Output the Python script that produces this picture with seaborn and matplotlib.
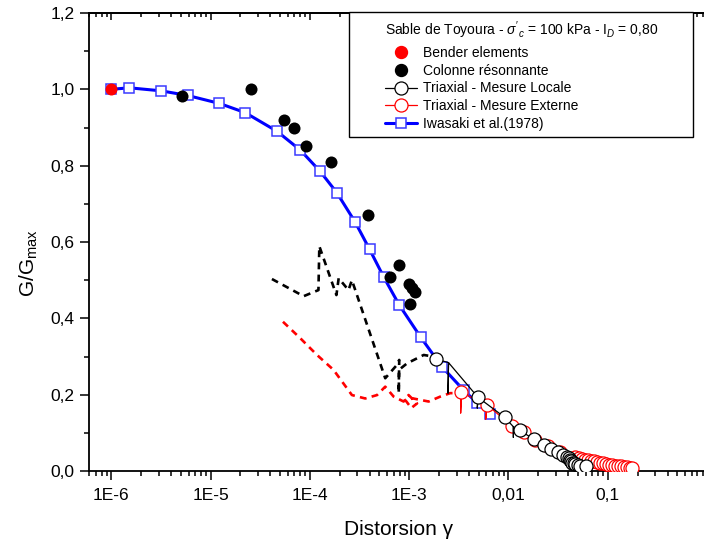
import numpy as np
import matplotlib
matplotlib.use("Agg")
import matplotlib.pyplot as plt
import seaborn as sns
from matplotlib.lines import Line2D
from matplotlib.patches import Rectangle
from matplotlib.ticker import FixedLocator, LogLocator, NullFormatter, MultipleLocator

# ---------------- data ----------------
bender_x = [1.0e-6]
bender_y = [1.0]

colonne_x = [5.15e-6, 2.57e-5, 5.43e-5, 6.92e-5, 9.14e-5, 1.64e-4, 3.81e-4,
             6.46e-4, 7.94e-4, 9.86e-4, 1.07e-3, 1.15e-3, 1.03e-3]
colonne_y = [0.982, 1.001, 0.920, 0.900, 0.851, 0.810, 0.670,
             0.509, 0.539, 0.490, 0.479, 0.468, 0.438]

iwasaki_x = [1.0e-6, 1.52e-6, 3.19e-6, 5.86e-6, 1.23e-5, 2.23e-5, 4.67e-5, 8.0e-5,
             1.27e-4, 1.87e-4, 2.86e-4, 3.99e-4, 5.52e-4, 7.94e-4, 1.31e-3,
             2.14e-3, 3.53e-3, 4.85e-3, 6.56e-3]
iwasaki_y = [1.0, 1.004, 0.996, 0.984, 0.963, 0.939, 0.890, 0.841,
             0.785, 0.729, 0.652, 0.581, 0.509, 0.435, 0.350,
             0.273, 0.212, 0.178, 0.149]

# small-strain local measurement (dashed black)
loc_dash_x = [4.15e-5, 8.65e-5, 1.22e-4, 1.245e-4, 1.85e-4, 1.95e-4, 2.45e-4, 2.65e-4,
              5.74e-4, 7.53e-4, 7.94e-4, 7.85e-4, 7.9e-4, 9.51e-4, 1.40e-3, 1.74e-3, 1.87e-3]
loc_dash_y = [0.503, 0.458, 0.474, 0.589, 0.461, 0.505, 0.474, 0.500,
              0.243, 0.278, 0.291, 0.204, 0.265, 0.282, 0.304, 0.300, 0.293]

# small-strain external measurement (dashed red)
ext_dash_x = [5.36e-5, 8.0e-5, 1.18e-4, 1.73e-4, 2.65e-4, 3.61e-4, 4.75e-4, 5.74e-4,
              6.97e-4, 8.79e-4, 9.86e-4, 1.20e-3, 1.05e-3, 9.14e-4, 1.10e-3, 1.57e-3,
              2.06e-3, 2.59e-3, 3.27e-3]
ext_dash_y = [0.391, 0.348, 0.304, 0.265, 0.199, 0.190, 0.199, 0.221,
              0.195, 0.182, 0.199, 0.177, 0.165, 0.186, 0.190, 0.182,
              0.195, 0.204, 0.204]

# Triaxial - Mesure Locale
loc_x = [1.87e-3, 2.49e-3, 2.46e-3, 2.49e-3, 4.93e-3, 4.85e-3, 4.93e-3, 9.12e-3,
         1.12e-2, 1.12e-2, 1.12e-2, 1.30e-2, 1.79e-2, 2.26e-2, 2.70e-2, 3.13e-2,
         3.54e-2, 3.91e-2, 4.05e-2, 4.19e-2, 4.30e-2, 4.38e-2, 4.55e-2, 4.71e-2,
         5.0e-2, 5.28e-2, 6.07e-2]
loc_y = [0.293, 0.284, 0.204, 0.284, 0.193, 0.165, 0.193, 0.141,
         0.116, 0.088, 0.116, 0.107, 0.083, 0.068, 0.057, 0.050,
         0.043, 0.037, 0.033, 0.029, 0.025, 0.022, 0.020, 0.018,
         0.016, 0.014, 0.013]
loc_marked = [0, 4, 7, 11, 12, 13, 14, 15, 16, 17, 18, 19, 20, 21, 22, 23, 24, 25, 26]

# Triaxial - Mesure Externe
ext_x = [3.35e-3, 3.30e-3, 3.35e-3, 6.07e-3, 5.9e-3, 6.07e-3, 1.09e-2, 1.42e-2,
         1.86e-2, 2.52e-2, 3.33e-2, 4.71e-2, 0.051, 0.055, 0.059, 0.063, 0.068,
         0.073, 0.078, 0.084, 0.090, 0.096, 0.103, 0.110, 0.118, 0.126, 0.135,
         0.145, 0.155, 0.166, 0.177]
ext_y = [0.206, 0.152, 0.206, 0.173, 0.136, 0.173, 0.118, 0.101,
         0.081, 0.065, 0.050, 0.037, 0.034, 0.032, 0.030, 0.028, 0.026,
         0.025, 0.023, 0.021, 0.020, 0.018, 0.017, 0.016, 0.014, 0.013, 0.012,
         0.011, 0.010, 0.009, 0.007]
ext_marked = [0, 3] + list(range(6, 31))

x_tick_values = [1e-6, 1e-5, 1e-4, 1e-3, 1e-2, 1e-1]
x_tick_labels = ["1E-6", "1E-5", "1E-4", "1E-3", "0,01", "0,1"]
y_tick_values = [0.0, 0.2, 0.4, 0.6, 0.8, 1.0, 1.2]
y_tick_labels = ["0,0", "0,2", "0,4", "0,6", "0,8", "1,0", "1,2"]

legend_title = "Sable de Toyoura - $\\sigma'_c$ = 100 kPa - I$_D$ = 0,80"
legend_labels = ["Bender elements", "Colonne résonnante", "Triaxial - Mesure Locale",
                 "Triaxial - Mesure Externe", "Iwasaki et al.(1978)"]

# ---------------- style ----------------
sns.set_style("ticks", rc={"axes.edgecolor": "black", "xtick.color": "black",
                           "ytick.color": "black", "text.color": "black",
                           "axes.labelcolor": "black"})
plt.rcParams['font.family'] = ['Liberation Sans', 'DejaVu Sans']
plt.rcParams['mathtext.fontset'] = 'custom'
plt.rcParams['mathtext.rm'] = 'Liberation Sans'
plt.rcParams['mathtext.it'] = 'Liberation Sans:italic'
plt.rcParams['mathtext.bf'] = 'Liberation Sans:bold'

W, H = 704, 545
fig = plt.figure(figsize=(W / 100, H / 100), dpi=100)
L, B, T = 88.5, 471, 13
ax = fig.add_axes([L / W, (H - B) / H, 618.6 / W, (B - T) / H])
ax.set_xscale('log')
ax.set_xlim(5.9e-7, 1.0)
ax.set_ylim(0, 1.2)

blue = '#0000ff'
sq_edge = '#3a3aff'

# dashed small-strain curves
sns.lineplot(x=ext_dash_x, y=ext_dash_y, sort=False, estimator=None, ax=ax,
             color='red', linewidth=1.9, linestyle=(0, (2.6, 2.0)), legend=False, zorder=2)
sns.lineplot(x=loc_dash_x, y=loc_dash_y, sort=False, estimator=None, ax=ax,
             color='black', linewidth=1.9, linestyle=(0, (2.6, 2.0)), legend=False, zorder=2)

# Iwasaki
sns.lineplot(x=iwasaki_x, y=iwasaki_y, sort=False, estimator=None, ax=ax,
             color=blue, linewidth=2.2, marker='s', markersize=7.2,
             markerfacecolor='white', markeredgecolor=sq_edge, markeredgewidth=1.1,
             legend=False, zorder=4)

# Colonne resonnante
sns.scatterplot(x=colonne_x, y=colonne_y, ax=ax, color='black', s=75,
                linewidth=0, legend=False, zorder=5)

# Triaxial externe
sns.lineplot(x=ext_x, y=ext_y, sort=False, estimator=None, ax=ax,
             color='red', linewidth=0.9, marker='o', markersize=9.4,
             markerfacecolor='white', markeredgecolor='red', markeredgewidth=0.9,
             markevery=ext_marked, legend=False, zorder=6)

# Triaxial locale
sns.lineplot(x=loc_x, y=loc_y, sort=False, estimator=None, ax=ax,
             color='black', linewidth=0.9, marker='o', markersize=9.4,
             markerfacecolor='white', markeredgecolor='black', markeredgewidth=0.9,
             markevery=loc_marked, legend=False, zorder=7)

# Bender
sns.scatterplot(x=bender_x, y=bender_y, ax=ax, color='red', s=75,
                linewidth=0, legend=False, zorder=8)

# ---------------- axes ----------------
for s in ax.spines.values():
    s.set_linewidth(1.3)
    s.set_color('black')

ax.xaxis.set_major_locator(FixedLocator(x_tick_values))
ax.set_xticklabels(x_tick_labels)
ax.xaxis.set_minor_locator(LogLocator(base=10, subs=np.arange(2, 10) * 1.0, numticks=60))
ax.xaxis.set_minor_formatter(NullFormatter())
ax.set_yticks(y_tick_values)
ax.set_yticklabels(y_tick_labels)
ax.yaxis.set_minor_locator(MultipleLocator(0.1))

ax.tick_params(which='major', direction='out', length=6.5, width=1.1, labelsize=12.5)
ax.tick_params(axis='x', which='major', pad=5.8)
ax.tick_params(axis='y', which='major', pad=3.5)
ax.tick_params(which='minor', direction='out', length=3.5, width=1.1)
ax.tick_params(top=False, right=False, which='both')

sec = ax.secondary_xaxis('top')
sec.xaxis.set_major_locator(FixedLocator(x_tick_values))
sec.xaxis.set_minor_locator(LogLocator(base=10, subs=np.arange(2, 10) * 1.0, numticks=60))
sec.xaxis.set_minor_formatter(NullFormatter())
sec.tick_params(which='major', direction='in', length=5, width=1.1, labeltop=False)
sec.tick_params(which='minor', direction='in', length=3, width=1.1)
sec.spines['top'].set_linewidth(1.3)

ax.set_xlabel("Distorsion γ", fontsize=15)
ax.xaxis.set_label_coords(0.502, -0.106)
ax.set_ylabel("G/G$_{\\mathrm{max}}$", fontsize=15)
ax.yaxis.set_label_coords(-0.078, 0.454)

# ---------------- legend ----------------
handles = [
    Line2D([], [], linestyle='none', marker='o', markersize=8.6,
           markerfacecolor='red', markeredgecolor='red'),
    Line2D([], [], linestyle='none', marker='o', markersize=8.6,
           markerfacecolor='black', markeredgecolor='black'),
    Line2D([], [], color='black', lw=0.9, marker='o', markersize=9.4,
           markerfacecolor='white', markeredgecolor='black', markeredgewidth=0.9),
    Line2D([], [], color='red', lw=0.9, marker='o', markersize=9.4,
           markerfacecolor='white', markeredgecolor='red', markeredgewidth=0.9),
    Line2D([], [], color=blue, lw=2.2, marker='s', markersize=7.2,
           markerfacecolor='white', markeredgecolor=sq_edge, markeredgewidth=1.1),
]
box = Rectangle((349 / W, 1 - 137 / H), (693 - 349) / W, (137 - 12) / H,
                transform=fig.transFigure, facecolor='white', edgecolor='black',
                linewidth=1.0, zorder=4.8, clip_on=False)
ax.add_patch(box)
leg = ax.legend(handles, legend_labels, title=legend_title, loc='upper left',
                bbox_to_anchor=(385 / W, 1 - 19 / H), bbox_transform=fig.transFigure,
                frameon=False, fontsize=10, title_fontsize=10, alignment='left',
                borderpad=0, borderaxespad=0, handlelength=2.3, handletextpad=0.45,
                labelspacing=0.28)
leg._legend_box.sep = 0.26 * 13.9
leg.set_zorder(6)

fig.savefig("out.png", dpi=100)
